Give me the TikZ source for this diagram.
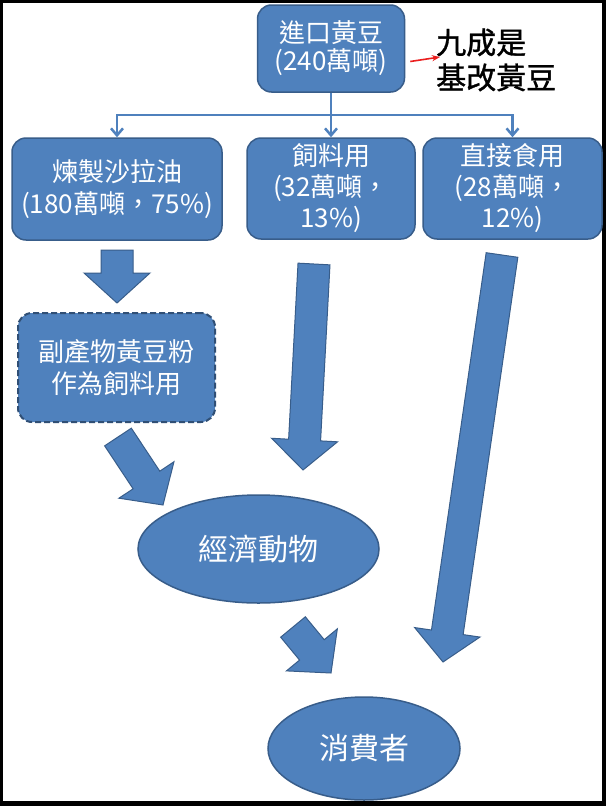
\documentclass[tikz,border=0pt]{standalone}
\usepackage{fontspec}
\setmainfont{Noto Sans CJK TC}
\newfontfamily\notefont[FakeBold=1.2]{Noto Sans CJK TC}
\usetikzlibrary{shapes.geometric,arrows.meta,calc}
\definecolor{boxblue}{RGB}{79,129,189}
\definecolor{edgeblue}{RGB}{56,93,138}
\definecolor{notered}{RGB}{235,30,30}

\newcommand{\blockarrow}[2]{%
  \coordinate (hb) at ($(#2)!30pt!(#1)$);
  \filldraw[blockarrow] ($(#1)!16pt!90:(#2)$) -- ($(hb)!16pt!90:(#2)$) -- ($(hb)!33pt!90:(#2)$) -- (#2)
    -- ($(hb)!33pt!-90:(#2)$) -- ($(hb)!16pt!-90:(#2)$) -- ($(#1)!16pt!-90:(#2)$) -- cycle;}

\begin{document}
\begin{tikzpicture}[x=1pt, y=-1pt,
    box/.style={rectangle, draw=edgeblue, fill=boxblue, line width=1.5pt, rounded corners=14pt, text=white, align=center, inner sep=0pt, font=\fontsize{26}{32}\selectfont},
    blob/.style={ellipse, draw=edgeblue, fill=boxblue, line width=1.5pt, text=white, inner sep=0pt, font=\fontsize{30}{36}\selectfont},
    link/.style={draw=boxblue, line width=2.5pt, -{Straight Barb[length=7pt,width=12pt]}},
    blockarrow/.style={draw=edgeblue, fill=boxblue, line width=1pt, line join=miter}
]
    \fill[black] (0,0) rectangle (606,806);
    \fill[white] (3,3) rectangle (602,801);

    \node[box, minimum width=147pt, minimum height=87pt, font=\fontsize{26}{28}\selectfont] (import) at (331,48.5) {進口黃豆\\(240萬噸)};
    \node[anchor=west, align=left, inner sep=0pt, font=\fontsize{30}{35}\notefont] (gmo) at (436,60) {九成是\\基改黃豆};
    \node[box, minimum width=210pt, minimum height=102pt] (oil) at (117,189) {煉製沙拉油\\(180萬噸，75\%)};
    \node[box, minimum width=168pt, minimum height=101pt, font=\fontsize{26}{31}\selectfont] (feed) at (331,188.5) {飼料用\\(32萬噸，\\13\%)};
    \node[box, minimum width=179pt, minimum height=101pt, font=\fontsize{26}{31}\selectfont] (food) at (512.5,188.5) {直接食用\\(28萬噸，\\12\%)};
    \node[box, minimum width=197pt, minimum height=109pt, draw=edgeblue!85!black, line width=2pt, dash pattern=on 6pt off 3pt] (meal) at (116.5,367.5) {副產物黃豆粉\\作為飼料用};
    \node[blob, minimum width=241pt, minimum height=108pt] (animal) at (258.5,549) {經濟動物};
    \node[blob, minimum width=192pt, minimum height=103pt] (consumer) at (364,748.5) {消費者};

    \draw[notered, line width=1.6pt, -{Stealth[length=8pt,width=6pt]}] ([xshift=5pt,yshift=-13pt]import.east) -- ([yshift=3pt,xshift=4pt]gmo.west);

    \coordinate (split) at (331,115);
    \draw[link] (import) -- (feed);
    \draw[link] (split) -| (oil);
    \draw[link] (split) -| (food);

    \coordinate (oilout) at (117,250);
    \coordinate (mealin) at (117,303);
    \coordinate (mealout) at (118,437);
    \coordinate (animalin) at (163,505);
    \coordinate (feedout) at (314,264);
    \coordinate (feedtip) at (303,470);
    \coordinate (foodout) at (502,255);
    \coordinate (foodtip) at (443,662);
    \coordinate (animalout) at (293,627);
    \coordinate (consumerin) at (331,673);

    \blockarrow{oilout}{mealin}
    \blockarrow{mealout}{animalin}
    \blockarrow{feedout}{feedtip}
    \blockarrow{foodout}{foodtip}
    \blockarrow{animalout}{consumerin}
\end{tikzpicture}
\end{document}
